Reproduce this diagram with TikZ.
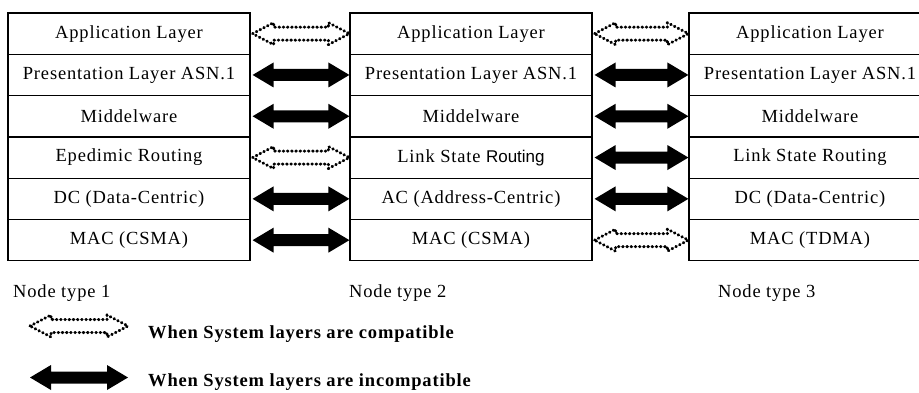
\documentclass[tikz,border=0pt]{standalone}
\usepackage{fontspec}
\setmainfont{Liberation Serif}
\newfontfamily\layerfont[LetterSpace=4.5]{Liberation Serif}
\newfontfamily\routefont{Liberation Sans}
\usetikzlibrary{calc}

% Default head and shaft half-heights of the block arrows
\def\ahead{12.5pt}
\def\ashaft{6pt}

% Double-headed block arrow between the right side of #2 and the left side of #3
\newcommand\fatarrow[3]{%
  \draw[#1] let \p1=(#2.east), \p2=(#3.west) in
    (\x1+2pt,\y1) -- (\x1+23pt,\y1+\ahead) -- (\x1+23pt,\y1+\ashaft)
    -- (\x2-21pt,\y1+\ashaft) -- (\x2-21pt,\y1+\ahead) -- (\x2,\y1)
    -- (\x2-21pt,\y1-\ahead) -- (\x2-21pt,\y1-\ashaft)
    -- (\x1+23pt,\y1-\ashaft) -- (\x1+23pt,\y1-\ahead) -- cycle;}

\begin{document}
\begin{tikzpicture}[x=1pt,y=-1pt,
  cell/.style={draw, line width=1.2pt, minimum width=242pt, minimum height=41.3pt,
    inner sep=0pt, font=\layerfont\fontsize{18.5}{20}\selectfont},
  typelabel/.style={anchor=base west, inner sep=0pt, font=\layerfont\fontsize{18.5}{20}\selectfont},
  legendtext/.style={anchor=base west, inner sep=0pt, font=\layerfont\bfseries\fontsize{18.5}{20}\selectfont},
  incompat/.style={fill=black, draw=none},
  compat/.style={draw=black, fill=none, line width=3pt, dash pattern=on 0.6pt off 3.6pt,
    line cap=round, line join=round,
    /utils/exec={\def\ahead{11pt}\def\ashaft{6.5pt}}}]
\useasboundingbox (0,0) rectangle (919,392);
\clip (0,0) rectangle (919,392);

% Node type 1
\node[cell] (a1) at (129,33.65)  {Application Layer};
\node[cell] (a2) at (129,74.95)  {Presentation Layer ASN.1};
\node[cell] (a3) at (129,116.25) {Middelware};
\node[cell] (a4) at (129,157.55) {Epedimic Routing};
\node[cell] (a5) at (129,198.85) {DC (Data-Centric)};
\node[cell] (a6) at (129,240.15) {MAC (CSMA)};

% Node type 2
\node[cell] (b1) at (471,33.65)  {Application Layer};
\node[cell] (b2) at (471,74.95)  {Presentation Layer ASN.1};
\node[cell] (b3) at (471,116.25) {Middelware};
\node[cell] (b4) at (471,157.55) {Link State {\routefont\fontsize{17}{20}\selectfont Routing}};
\node[cell] (b5) at (471,198.85) {AC (Address-Centric)};
\node[cell] (b6) at (471,240.15) {MAC (CSMA)};

% Node type 3
\node[cell] (c1) at (810,33.65)  {Application Layer};
\node[cell] (c2) at (810,74.95)  {Presentation Layer ASN.1};
\node[cell] (c3) at (810,116.25) {Middelware};
\node[cell] (c4) at (810,157.55) {Link State Routing};
\node[cell] (c5) at (810,198.85) {DC (Data-Centric)};
\node[cell] (c6) at (810,240.15) {MAC (TDMA)};

% Layer relations between node types 1 and 2
\fatarrow{compat}{a1}{b1}
\fatarrow{incompat}{a2}{b2}
\fatarrow{incompat}{a3}{b3}
\fatarrow{compat}{a4}{b4}
\fatarrow{incompat}{a5}{b5}
\fatarrow{incompat}{a6}{b6}

% Layer relations between node types 2 and 3
\fatarrow{compat}{b1}{c1}
\fatarrow{incompat}{b2}{c2}
\fatarrow{incompat}{b3}{c3}
\fatarrow{incompat}{b4}{c4}
\fatarrow{incompat}{b5}{c5}
\fatarrow{compat}{b6}{c6}

% Stack captions
\node[typelabel] (t1) at (13,297)  {Node type 1};
\node[typelabel] (t2) at (349,297) {Node type 2};
\node[typelabel] (t3) at (718,297) {Node type 3};

% Legend
\coordinate (lc1) at (28,326);
\coordinate (lc2) at (128,326);
\coordinate (li1) at (28,377.5);
\coordinate (li2) at (128,377.5);
\fatarrow{compat}{lc1}{lc2}
\fatarrow{incompat}{li1}{li2}
\node[legendtext] (lt1) at (148,338) {When System layers are compatible};
\node[legendtext] (lt2) at (148,386) {When System layers are incompatible};
\end{tikzpicture}
\end{document}
